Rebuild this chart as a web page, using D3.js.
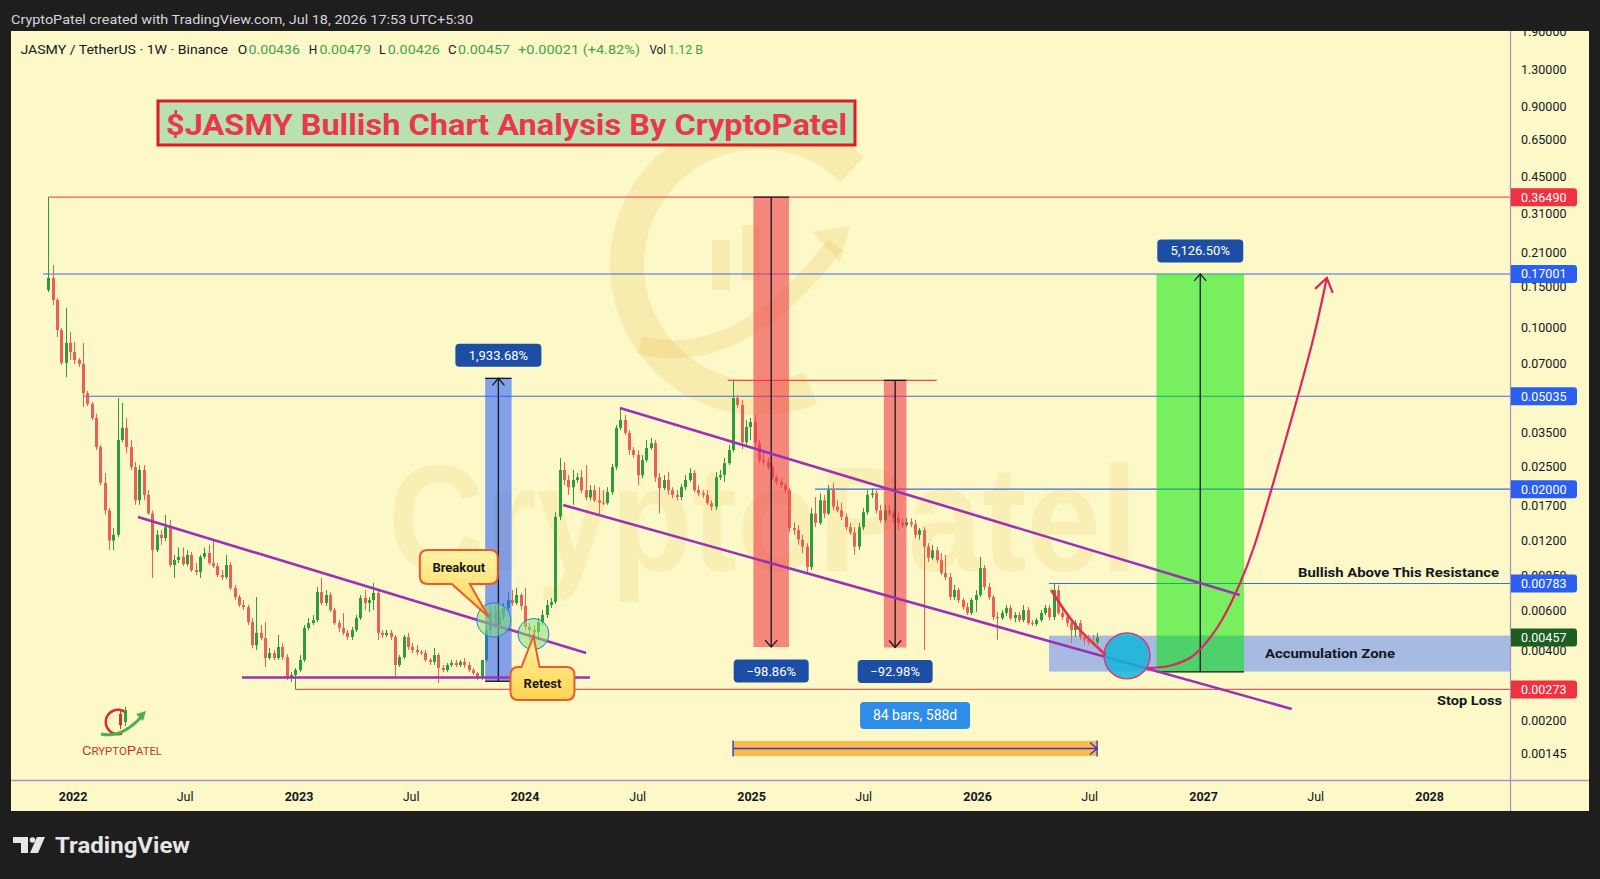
<!DOCTYPE html>
<html><head><meta charset="utf-8">
<script src="https://cdn.jsdelivr.net/npm/d3@7"></script>
<style>html,body{margin:0;padding:0;background:#1e1e1e;}svg{display:block;}</style>
</head><body>
<svg id="c" width="1600" height="879"></svg>
<script>
// ---------------- DATA ----------------
const firstBar = "2021-11-22";   // weekly bars (Mondays)
const lastBar  = "2026-07-13";
const opens = [
.1449,.1634,.1312,.0974,.0702,.0856,.0782,.0723,.0695,.0520,
.0467,.0406,.0304,.0213,.0162,.0120,.0127,.0326,.0368,.0304,
.0249,.0179,.0242,.0189,.0157,.0109,.0127,.0123,.0137,.0094,
.00988,.0102,.00949,.0104,.00895,.00877,.0102,.0106,.00959,.00931,
.00851,.00834,.0094,.00749,.00684,.00632,.00619,.00533,.00424,.00479,
.00455,.00373,.00392,.00373,.00416,.00376,.00306,.00315,.00331,.00366,
.00503,.00528,.00544,.00718,.00645,.00698,.00601,.00528,.00503,.00479,
.0046,.00493,.00555,.00678,.00645,.00664,.00712,.00479,.00469,.00479,
.0046,.00348,.00376,.0046,.00416,.00404,.00396,.00392,.00366,.00359,
.00384,.00338,.00331,.00348,.00355,.00348,.00359,.00348,.00331,.00321,
.00306,.00366,.00493,.00589,.00518,.00561,.00614,.00664,.00645,.00698,
.00626,.00508,.00493,.00483,.00533,.00572,.00632,.00651,.0152,.0242,
.0219,.0204,.0219,.0225,.0198,.0184,.0198,.0179,.0175,.0174,
.0194,.0249,.0368,.0398,.035,.0295,.0281,.023,.0267,.0301,
.0316,.0225,.0202,.0219,.0198,.0189,.0185,.0204,.0219,.0235,
.0198,.0192,.0189,.0174,.0168,.0225,.023,.0259,.0295,.0495,
.0462,.0319,.0371,.039,.0316,.0267,.0262,.0249,.0225,.0215,
.0208,.0198,.0136,.0133,.0121,.0113,.00921,.0157,.0143,.0179,
.0157,.0198,.0168,.0162,.0152,.0137,.013,.0113,.0137,.0159,
.0189,.0192,.0162,.0147,.0162,.0157,.015,.0143,.014,.0144,
.0141,.0127,.0133,.0113,.0101,.0109,.00988,.00868,.00834,.00684,
.00733,.00664,.00619,.00584,.00664,.00698,.00913,.00756,.00684,.00561,
.00555,.00584,.00614,.00555,.00572,.00544,.00601,.00528,.00523,.00544,
.00584,.00614,.00561,.00733,.00584,.00561,.00528,.00493,.00528,.0046,
.00446,.00437,.00436];
const highs = [
.365,.1859,.1339,.0993,.1213,.0955,.0864,.0737,.0856,.0531,
.0476,.0423,.031,.0235,.0166,.0136,.0495,.0472,.0406,.0326,
.0262,.0254,.0254,.0198,.0162,.0133,.0133,.0155,.0147,.0104,
.0112,.0112,.0109,.0107,.00959,.0104,.0112,.0115,.0121,.00959,
.00895,.0104,.00968,.00771,.00698,.00664,.00632,.00555,.00684,.00518,
.00533,.00412,.00404,.00469,.00433,.00388,.00324,.00338,.00384,.00518,
.00555,.00572,.00756,.00826,.00733,.00718,.00614,.00544,.00584,.00493,
.00508,.00572,.00698,.00733,.00684,.00787,.00733,.00493,.00493,.00493,
.00469,.00384,.00469,.00479,.00433,.00424,.00404,.00404,.00373,.00412,
.00392,.00348,.00355,.00366,.00366,.00366,.00373,.00359,.00338,.00324,
.00366,.00518,.00632,.00632,.00601,.00645,.00718,.00733,.00749,.00712,
.00749,.00528,.00518,.00555,.00601,.00664,.00678,.0159,.0273,.0262,
.023,.0242,.0235,.0242,.0254,.0208,.0208,.0204,.0198,.0204,
.0257,.0379,.0453,.0418,.036,.0304,.0295,.0281,.0326,.0333,
.0326,.0235,.023,.0237,.0204,.0198,.0211,.023,.0246,.0242,
.0208,.0198,.0198,.0179,.0237,.0242,.0273,.031,.059,.051,
.0486,.0398,.0406,.0418,.0326,.0289,.0273,.0254,.023,.0223,
.0213,.0202,.0144,.014,.0127,.0117,.0166,.0185,.0192,.0189,
.0208,.0213,.0179,.0175,.0157,.0143,.0137,.0143,.0166,.0198,
.0202,.0198,.0171,.0171,.0171,.0162,.0159,.015,.015,.015,
.0147,.0136,.0137,.0117,.0115,.0113,.0106,.0104,.00868,.00771,
.00749,.00678,.00645,.00678,.00733,.0102,.0094,.00787,.00698,.00589,
.00601,.00632,.00632,.00589,.00589,.00632,.00619,.00544,.00555,.00601,
.00632,.00632,.00787,.00771,.00614,.00584,.00555,.00544,.00544,.00479,
.00469,.00469,.00479];
const lows = [
.142,.1249,.0907,.0688,.061,.0723,.0695,.0674,.0453,.0457,
.0398,.0295,.0208,.0155,.0109,.0109,.0124,.0319,.0286,.0242,
.0171,.0171,.0179,.0155,.00826,.0107,.0115,.0119,.00921,.00826,
.00959,.00931,.00931,.00877,.00851,.00826,.01,.0094,.00913,.00834,
.0081,.00818,.00733,.00664,.00619,.00601,.00518,.00412,.00404,.00446,
.00341,.00366,.00366,.00366,.00366,.003,.00294,.00273,.00324,.00359,
.00493,.00518,.00533,.00632,.00626,.00589,.00518,.00483,.00469,.00446,
.00446,.00483,.00544,.00601,.00589,.00601,.00446,.00455,.0046,.00446,
.00309,.00341,.00369,.00404,.00392,.00384,.00384,.00359,.00348,.00348,
.00291,.00324,.00324,.00341,.00341,.00341,.00338,.00324,.00315,.003,
.003,.00359,.00469,.00503,.00508,.00544,.00601,.00626,.00632,.00601,
.00493,.00446,.00446,.00446,.00518,.00555,.00614,.00638,.0147,.0208,
.0189,.0171,.0213,.0192,.0179,.0179,.0176,.0155,.0171,.0171,
.0189,.0242,.036,.0343,.0281,.0273,.0208,.0223,.0262,.0295,
.0215,.0157,.0198,.0189,.0183,.0179,.0179,.0198,.0215,.0194,
.0187,.0183,.0171,.0162,.0162,.0219,.0215,.0254,.0289,.0448,
.0298,.031,.0326,.0304,.0259,.0254,.0242,.0219,.0208,.0202,
.0192,.013,.0127,.0115,.0106,.00868,.00895,.0137,.014,.015,
.0155,.0162,.0159,.0147,.0133,.0127,.0104,.0109,.0133,.0155,
.0183,.0157,.0143,.0144,.0153,.0144,.0133,.0136,.0137,.0137,
.0123,.0121,.00404,.00968,.00988,.00959,.00851,.0081,.00664,.00664,
.00645,.00601,.00572,.00572,.00589,.00684,.00733,.00664,.00544,.00446,
.00544,.00566,.00544,.00533,.00533,.00533,.00518,.00513,.00513,.00533,
.00572,.00544,.00544,.00572,.00544,.00508,.00433,.0046,.00446,.00424,
.00424,.00424,.00426];
const closes = [
.1634,.1312,.0974,.0702,.0856,.0782,.0723,.0695,.0520,.0467,
.0406,.0304,.0213,.0162,.0120,.0127,.0326,.0368,.0304,.0249,
.0179,.0242,.0189,.0157,.0109,.0127,.0123,.0137,.0094,.00988,
.0102,.00949,.0104,.00895,.00877,.0102,.0106,.00959,.00931,.00851,
.00834,.0094,.00749,.00684,.00632,.00619,.00533,.00424,.00479,.00455,
.00373,.00392,.00373,.00416,.00376,.00306,.00315,.00331,.00366,.00503,
.00528,.00544,.00718,.00645,.00698,.00601,.00528,.00503,.00479,.0046,
.00493,.00555,.00678,.00645,.00664,.00712,.00479,.00469,.00479,.0046,
.00348,.00376,.0046,.00416,.00404,.00396,.00392,.00366,.00359,.00384,
.00338,.00331,.00348,.00355,.00348,.00359,.00348,.00331,.00321,.00306,
.00366,.00493,.00589,.00518,.00561,.00614,.00664,.00645,.00698,.00626,
.00508,.00493,.00483,.00533,.00572,.00632,.00651,.0152,.0242,.0219,
.0204,.0219,.0225,.0198,.0184,.0198,.0179,.0175,.0174,.0194,
.0249,.0368,.0398,.035,.0295,.0281,.023,.0267,.0301,.0316,
.0225,.0202,.0219,.0198,.0189,.0185,.0204,.0219,.0235,.0198,
.0192,.0189,.0174,.0168,.0225,.023,.0259,.0295,.0495,.0462,
.0319,.0371,.039,.0316,.0267,.0262,.0249,.0225,.0215,.0208,
.0198,.0136,.0133,.0121,.0113,.00921,.0157,.0143,.0179,.0157,
.0198,.0168,.0162,.0152,.0137,.013,.0113,.0137,.0159,.0189,
.0192,.0162,.0147,.0162,.0157,.015,.0143,.014,.0144,.0141,
.0127,.0133,.0113,.0101,.0109,.00988,.00868,.00834,.00684,.00733,
.00664,.00619,.00584,.00664,.00698,.00913,.00756,.00684,.00561,.00555,
.00584,.00614,.00555,.00572,.00544,.00601,.00528,.00523,.00544,.00584,
.00614,.00561,.00733,.00584,.00561,.00528,.00493,.00528,.0046,.00446,
.00437,.00436,.00457];

const priceTicks = [1.9,1.3,0.9,0.65,0.45,0.31,0.21,0.15,0.1,0.07,0.035,0.025,0.017,0.012,0.0085,0.006,0.004,0.002,0.00145];
const timeTickDates  = ["2022-01-01","2022-07-01","2023-01-01","2023-07-01","2024-01-01","2024-07-01","2025-01-01","2025-07-01","2026-01-01","2026-07-01","2027-01-01","2027-07-01","2028-01-01"];
const timeTickLabels = ["2022","Jul","2023","Jul","2024","Jul","2025","Jul","2026","Jul","2027","Jul","2028"];

const tagValues = [0.3649, 0.17001, 0.05035, 0.02, 0.00783, 0.00457, 0.00273];
const tagTexts  = ["0.36490","0.17001","0.05035","0.02000","0.00783","0.00457","0.00273"];
const tagKinds  = ["red","blue","blue","blue","blue","last","red"];

// horizontal levels: price, first bar index
const blueLevels = [0.17001, 0.05035, 0.02, 0.00783];
const blueLevelStart = [-1.2, 8, 176.9, 230.9];
const redLevels = [0.3649, 0.00273];
const redLevelStart = [0, 57];
const swingHigh = 0.059, swingHighBars = [156.8, 205.0];

// trend lines [[bar, price],[bar, price]]
const trendLines = [
  [[20.7, 0.01516],[124.1, 0.003924]],
  [[44.7, 0.003073],[125.0, 0.003073]],
  [[131.9, 0.04482],[274.9, 0.006982]],
  [[118.8, 0.01708],[286.9, 0.002247]]
];

// price range measurements
const measureLabels = ["1,933.68%","\u221298.86%","\u221292.98%","5,126.50%"];
const measureFrom   = [0.00296, 0.3649, 0.059, 0.003253];
const measureTo     = [0.0602, 0.00416, 0.00414, 0.17001];
const measureBars   = [[100.8,106.9],[162.7,170.9],[192.8,198.0],[255.7,275.9]];

const zoneBars = 230.9, zoneTop = 0.00466, zoneBottom = 0.00326;
const breakoutPt = [102.8, 0.005444], retestPt = [111.95, 0.004736], targetPt = [248.9, 0.003814];
const declinePath = [[231.4,0.007335],[234.1,0.006135],[237.4,0.005077],[240.8,0.004374],[244.0,0.003845]];
const projectionPath = [[253.5,0.003377],[258.5,0.003446],[263.4,0.003731],[266.7,0.004246],[270.8,0.005444],[275.0,0.007866],[278.2,0.01128],[285.8,0.03427],[291.8,0.08813],[295.0,0.1633]];
const dateRangeBars = [158, 242], dateRangeLevel = 0.001517, dateRangeLabel = "84 bars, 588d";

// ---------------- DRAW ----------------
const FONT = "Roboto, 'Liberation Sans', Arial, sans-serif";
const UP = "#2e9b3c", DN = "#ec5f56";
const svg = d3.select("#c");
svg.append("rect").attr("width",1600).attr("height",879).attr("fill","#1e1e1e");
svg.append("rect").attr("x",11).attr("y",31).attr("width",1578).attr("height",780).attr("fill","#fdf8c8");

const defs = svg.append("defs");
defs.append("clipPath").attr("id","plotClip").append("rect").attr("x",11).attr("y",31).attr("width",1500).attr("height",750);
defs.append("clipPath").attr("id","axisClip").append("rect").attr("x",1511).attr("y",31).attr("width",78).attr("height",750);
const grad = defs.append("linearGradient").attr("id","callG").attr("x1",0).attr("y1",0).attr("x2",0).attr("y2",1);
grad.append("stop").attr("offset","0%").attr("stop-color","#fff4a8");
grad.append("stop").attr("offset","100%").attr("stop-color","#ffd451");

const dates = d3.range(closes.length).map(i => d3.utcDay.offset(new Date(firstBar+"T00:00:00Z"), 7*i));
const x = d3.scaleUtc().domain([new Date(firstBar+"T00:00:00Z"), new Date(lastBar+"T00:00:00Z")]).range([48.3, 1097.1]);
const xi = d3.scaleLinear().domain([0, closes.length-1]).range(x.range());
const y = d3.scaleLog().domain([0.001098, 1.904]).range([781, 31]);

// header
svg.append("text").attr("x",11).attr("y",24).attr("fill","#d6d6d6").attr("font-family",FONT)
  .attr("font-size",13.5).attr("textLength",462).attr("lengthAdjust","spacingAndGlyphs")
  .text("CryptoPatel created with TradingView.com, Jul 18, 2026 17:53 UTC+5:30");

const plot = svg.append("g").attr("clip-path","url(#plotClip)");

// watermark
const wm = plot.append("g").attr("opacity",1);
const wmCol = "rgba(222,170,45,0.16)";
wm.append("path").attr("transform","translate(760,265)")
  .attr("d", d3.arc()({innerRadius:116, outerRadius:150, startAngle:2.75, endAngle:7.05})).attr("fill",wmCol);
wm.append("path").attr("d","M640,345 Q740,370 835,245").attr("fill","none").attr("stroke",wmCol).attr("stroke-width",18);
wm.append("path").attr("d","M812,232 L850,226 L840,262 Z").attr("fill",wmCol);
wm.append("rect").attr("x",712).attr("y",240).attr("width",18).attr("height",50).attr("fill",wmCol);
wm.append("rect").attr("x",742).attr("y",225).attr("width",18).attr("height",55).attr("fill",wmCol);
wm.append("text").attr("x",388).attr("y",571).attr("font-family","'Liberation Sans', Arial, sans-serif")
  .attr("font-weight","bold").attr("font-size",150).attr("fill","rgba(222,180,55,0.13)")
  .attr("textLength",750).attr("lengthAdjust","spacingAndGlyphs").text("CryptoPatel");

// horizontal levels
redLevels.forEach((p,k)=>{
  plot.append("line").attr("x1",xi(redLevelStart[k])).attr("x2",1511).attr("y1",y(p)).attr("y2",y(p))
    .attr("stroke","#ee5a5a").attr("stroke-width",1.2);
});
blueLevels.forEach((p,k)=>{
  plot.append("line").attr("x1",xi(blueLevelStart[k])).attr("x2",1511).attr("y1",y(p)).attr("y2",y(p))
    .attr("stroke","#3d6be8").attr("stroke-width",1.1);
});
plot.append("line").attr("x1",xi(swingHighBars[0])).attr("x2",xi(swingHighBars[1]))
  .attr("y1",y(swingHigh)).attr("y2",y(swingHigh)).attr("stroke","#ee4a4a").attr("stroke-width",1.2);

// accumulation zone
plot.append("rect").attr("x",xi(zoneBars)).attr("y",y(zoneTop)).attr("width",1511-xi(zoneBars))
  .attr("height",y(zoneBottom)-y(zoneTop)).attr("fill","#a7bae2");

// candles
const bars = closes.map((c,i)=>({d:dates[i], o:opens[i], h:highs[i], l:lows[i], c}));
const cg = plot.append("g");
cg.selectAll("line").data(bars).join("line")
  .attr("x1",d=>Math.round(x(d.d))+0.5).attr("x2",d=>Math.round(x(d.d))+0.5)
  .attr("y1",d=>y(d.h)).attr("y2",d=>y(d.l))
  .attr("stroke",d=>d.c>=d.o?UP:DN).attr("stroke-width",1);
cg.selectAll("rect").data(bars).join("rect")
  .attr("x",d=>Math.round(x(d.d))-1).attr("width",3)
  .attr("y",d=>y(Math.max(d.o,d.c))).attr("height",d=>Math.max(1,Math.abs(y(d.o)-y(d.c))))
  .attr("fill",d=>d.c>=d.o?UP:DN);

// measurement boxes
const boxFill = ["rgba(41,98,255,0.58)","rgba(242,54,69,0.58)","rgba(242,54,69,0.58)","rgba(0,230,0,0.53)"];
const labFill = ["#1d4ea6","#1d4ea6","#1d4ea6","#1d4ea6"];
const mg = plot.append("g");
measureLabels.forEach((lab,k)=>{
  const x0 = xi(measureBars[k][0]), x1 = xi(measureBars[k][1]), cx = (x0+x1)/2;
  const yA = y(measureFrom[k]), yB = y(measureTo[k]);
  mg.append("rect").attr("x",x0).attr("y",Math.min(yA,yB)).attr("width",x1-x0).attr("height",Math.abs(yA-yB)).attr("fill",boxFill[k]);
});
measureLabels.forEach((lab,k)=>{
  const x0 = xi(measureBars[k][0]), x1 = xi(measureBars[k][1]), cx = (x0+x1)/2;
  const yA = y(measureFrom[k]), yB = y(measureTo[k]);
  const dir = yB < yA ? -1 : 1;
  mg.append("line").attr("x1",cx).attr("x2",cx).attr("y1",yA).attr("y2",yB).attr("stroke","#131722").attr("stroke-width",1.3);
  mg.append("path").attr("d",`M${cx-6},${yB-dir*7} L${cx},${yB} L${cx+6},${yB-dir*7}`).attr("fill","none").attr("stroke","#131722").attr("stroke-width",1.3);
  mg.append("line").attr("x1",x0).attr("x2",x1).attr("y1",yA).attr("y2",yA).attr("stroke","#131722").attr("stroke-width",1.3);
  if (k===0) mg.append("line").attr("x1",x0).attr("x2",x1).attr("y1",yB).attr("y2",yB).attr("stroke","#131722").attr("stroke-width",1.3);
  const ly = dir<0 ? yB-23 : yB+24;
  const w = k===1||k===2 ? 75 : 86;
  mg.append("rect").attr("x",cx-w/2).attr("y",ly-11.5).attr("width",w).attr("height",23).attr("rx",4).attr("fill",labFill[k]);
  mg.append("text").attr("x",cx).attr("y",ly+4.5).attr("text-anchor","middle").attr("fill","#fff")
    .attr("font-family",FONT).attr("font-size",13).text(lab);
});

// trend lines
trendLines.forEach(t=>{
  plot.append("line").attr("x1",xi(t[0][0])).attr("y1",y(t[0][1])).attr("x2",xi(t[1][0])).attr("y2",y(t[1][1]))
    .attr("stroke","#9b32b6").attr("stroke-width",2.6);
});

// circles
[breakoutPt, retestPt].forEach((p,k)=>{
  plot.append("circle").attr("cx",xi(p[0])).attr("cy",y(p[1])).attr("r",k===0?17:15.5)
    .attr("fill","rgba(130,230,120,0.55)").attr("stroke","#3b6fe0").attr("stroke-width",1);
});
plot.append("circle").attr("cx",xi(targetPt[0])).attr("cy",y(targetPt[1])).attr("r",23)
  .attr("fill","rgba(20,180,220,0.85)").attr("stroke","#e0306a").attr("stroke-width",1.3);

// curves
const lineGen = d3.line().x(d=>xi(d[0])).y(d=>y(d[1])).curve(d3.curveCatmullRom);
plot.append("path").attr("d",lineGen(declinePath)).attr("fill","none").attr("stroke","#e3324f").attr("stroke-width",2.6);
plot.append("path").attr("d",lineGen(projectionPath)).attr("fill","none").attr("stroke","#e0245e").attr("stroke-width",2.2);
{
  const n = projectionPath.length;
  const tx = xi(projectionPath[n-1][0]), ty = y(projectionPath[n-1][1]);
  const px = xi(projectionPath[n-2][0]), py = y(projectionPath[n-2][1]);
  const a = Math.atan2(py-ty, px-tx), L = 16, s = 0.6;
  plot.append("path").attr("d",`M${tx+L*Math.cos(a-s)},${ty+L*Math.sin(a-s)} L${tx},${ty} L${tx+L*Math.cos(a+s)},${ty+L*Math.sin(a+s)}`)
    .attr("fill","none").attr("stroke","#e0245e").attr("stroke-width",2.2);
}

// date range
{
  const x0 = xi(dateRangeBars[0]), x1 = xi(dateRangeBars[1]), yl = y(dateRangeLevel);
  plot.append("rect").attr("x",x0).attr("y",yl-7.5).attr("width",x1-x0).attr("height",15).attr("fill","#fdb84e");
  plot.append("line").attr("x1",x0).attr("x2",x1).attr("y1",yl).attr("y2",yl).attr("stroke","#3a3ab5").attr("stroke-width",1.4);
  plot.append("line").attr("x1",x0).attr("x2",x0).attr("y1",yl-8).attr("y2",yl+8).attr("stroke","#3a3ab5").attr("stroke-width",1.4);
  plot.append("line").attr("x1",x1).attr("x2",x1).attr("y1",yl-8).attr("y2",yl+8).attr("stroke","#3a3ab5").attr("stroke-width",1.4);
  plot.append("path").attr("d",`M${x1-7},${yl-6} L${x1},${yl} L${x1-7},${yl+6}`).attr("fill","none").attr("stroke","#3a3ab5").attr("stroke-width",1.4);
  const cx = (x0+x1)/2;
  plot.append("rect").attr("x",cx-55).attr("y",yl-46.5).attr("width",110).attr("height",27).attr("rx",4).attr("fill","#2e8de6");
  plot.append("text").attr("x",cx).attr("y",yl-28).attr("text-anchor","middle").attr("fill","#fff")
    .attr("font-family",FONT).attr("font-size",14).text(dateRangeLabel);
}

// callouts
function callout(x0,y0,x1,y1,r,side,xa,xb,tx,ty){
  if(side==="bottom")
    return `M${x0+r},${y0} H${x1-r} Q${x1},${y0} ${x1},${y0+r} V${y1-r} Q${x1},${y1} ${x1-r},${y1} H${xb} L${tx},${ty} L${xa},${y1} H${x0+r} Q${x0},${y1} ${x0},${y1-r} V${y0+r} Q${x0},${y0} ${x0+r},${y0} Z`;
  return `M${x0+r},${y0} H${xa} L${tx},${ty} L${xb},${y0} H${x1-r} Q${x1},${y0} ${x1},${y0+r} V${y1-r} Q${x1},${y1} ${x1-r},${y1} H${x0+r} Q${x0},${y1} ${x0},${y1-r} V${y0+r} Q${x0},${y0} ${x0+r},${y0} Z`;
}
{
  const cx = xi(breakoutPt[0]), cy = y(breakoutPt[1]);
  plot.append("path").attr("d",callout(cx-74,cy-70,cx+4,cy-36,8,"bottom",cx-42,cx-24,cx-5,cy-3))
    .attr("fill","url(#callG)").attr("stroke","#ec5b2a").attr("stroke-width",2);
  plot.append("text").attr("x",cx-35).attr("y",cy-48.5).attr("text-anchor","middle").attr("font-family",FONT)
    .attr("font-weight","bold").attr("font-size",13).attr("fill","#1a1a1a").text("Breakout");
  const rx = xi(retestPt[0]), ry = y(retestPt[1]);
  plot.append("path").attr("d",callout(rx-23,ry+33,rx+41,ry+66,8,"top",rx-12,rx+6,rx,ry+2))
    .attr("fill","url(#callG)").attr("stroke","#ec5b2a").attr("stroke-width",2);
  plot.append("text").attr("x",rx+9).attr("y",ry+54).attr("text-anchor","middle").attr("font-family",FONT)
    .attr("font-weight","bold").attr("font-size",13).attr("fill","#1a1a1a").text("Retest");
}

// annotation texts
plot.append("text").attr("x",1499).attr("y",y(0.00783)-6).attr("text-anchor","end").attr("font-family",FONT)
  .attr("font-weight","bold").attr("font-size",13).attr("fill","#131722").attr("textLength",201).attr("lengthAdjust","spacingAndGlyphs").text("Bullish Above This Resistance");
plot.append("text").attr("x",1265).attr("y",(y(zoneTop)+y(zoneBottom))/2+4.5).attr("font-family",FONT)
  .attr("font-weight","bold").attr("font-size",13).attr("fill","#131722").attr("textLength",130).attr("lengthAdjust","spacingAndGlyphs").text("Accumulation Zone");
plot.append("text").attr("x",1437).attr("y",y(0.00273)+15.5).attr("font-family",FONT)
  .attr("font-weight","bold").attr("font-size",13).attr("fill","#131722").attr("textLength",65).attr("lengthAdjust","spacingAndGlyphs").text("Stop Loss");

// small logo
{
  const lg = svg.append("g");
  lg.append("path").attr("transform","translate(118,722)").attr("d",d3.arc()({innerRadius:11,outerRadius:13.5,startAngle:2.8,endAngle:6.9})).attr("fill","#d3302f");
  lg.append("line").attr("x1",120.5).attr("x2",120.5).attr("y1",710).attr("y2",729).attr("stroke","#d3302f");
  lg.append("rect").attr("x",119).attr("y",714).attr("width",3).attr("height",11).attr("fill","#d3302f");
  lg.append("line").attr("x1",125.5).attr("x2",125.5).attr("y1",707).attr("y2",726).attr("stroke","#3a9d3a");
  lg.append("rect").attr("x",124).attr("y",710).attr("width",3).attr("height",12).attr("fill","#3a9d3a");
  lg.append("path").attr("d","M101,734 Q122,739 143,715").attr("fill","none").attr("stroke","#4caf50").attr("stroke-width",3);
  lg.append("path").attr("d","M136,714 L146,711 L143,721 Z").attr("fill","#4caf50");
  const t = lg.append("text").attr("x",82).attr("y",755).attr("font-family",FONT).attr("fill","#c0392b")
    .attr("textLength",80).attr("lengthAdjust","spacingAndGlyphs");
  t.append("tspan").attr("font-size",13).text("C");
  t.append("tspan").attr("font-size",10).text("RYPTO");
  t.append("tspan").attr("font-size",13).text("P");
  t.append("tspan").attr("font-size",10).text("ATEL");
}

// title
svg.append("rect").attr("x",158).attr("y",101).attr("width",697).attr("height",44).attr("fill","#b8e0b0").attr("stroke","#e01b22").attr("stroke-width",3);
svg.append("text").attr("x",166).attr("y",134.5).attr("font-family",FONT).attr("font-weight","bold").attr("font-size",30)
  .attr("fill","#e8384a").attr("textLength",681).attr("lengthAdjust","spacingAndGlyphs").text("$JASMY Bullish Chart Analysis By CryptoPatel");

// legend
{
  const lgd = svg.append("text").attr("y",53.5).attr("font-family",FONT).attr("font-size",13);
  const GREEN = "#3fa34d", INK = "#131722";
  const parts = [
    [20.4,207.6,INK,"JASMY / TetherUS \u00b7 1W \u00b7 Binance"],
    [237.8,9.5,INK,"O"],[248.5,51.5,GREEN,"0.00436"],
    [308.7,8.5,INK,"H"],[319.4,51.5,GREEN,"0.00479"],
    [379,6.7,INK,"L"],[387.8,52,GREEN,"0.00426"],
    [448,8.6,INK,"C"],[458,52,GREEN,"0.00457"],
    [518,122,GREEN,"+0.00021 (+4.82%)"],
    [649.5,16.5,INK,"Vol"],[668,35,GREEN,"1.12 B"]
  ];
  parts.forEach(p=>{
    svg.append("text").attr("x",p[0]).attr("y",53.5).attr("font-family",FONT).attr("font-size",13)
      .attr("fill",p[2]).attr("textLength",p[1]).attr("lengthAdjust","spacingAndGlyphs").text(p[3]);
  });
  lgd.remove();
}

// axes separators
svg.append("line").attr("x1",1510.5).attr("x2",1510.5).attr("y1",31).attr("y2",811).attr("stroke","#b089c0").attr("stroke-width",1.2);
svg.append("line").attr("x1",11).attr("x2",1589).attr("y1",780.5).attr("y2",780.5).attr("stroke","#b98bbf").attr("stroke-width",1.6);

// price axis
const ax = svg.append("g").attr("clip-path","url(#axisClip)");
ax.selectAll("text.t").data(priceTicks).join("text").attr("class","t")
  .attr("x",1521).attr("y",d=>y(d)+4.5).attr("font-family",FONT).attr("font-size",12.5).attr("fill","#131722")
  .text(d=>d3.format(".5f")(d));
const tagCol = {red:"#ef3140", blue:"#2a5ff0", last:"#1b5e20"};
tagValues.forEach((v,k)=>{
  const yy = y(v);
  ax.append("path").attr("d",`M1511,${yy-9} H1574 Q1577,${yy-9} 1577,${yy-6} V${yy+6} Q1577,${yy+9} 1574,${yy+9} H1511 Z`).attr("fill",tagCol[tagKinds[k]]);
  ax.append("text").attr("x",1521).attr("y",yy+4.5).attr("font-family",FONT).attr("font-size",12.5).attr("fill","#fff").text(tagTexts[k]);
});

// time axis
svg.append("g").selectAll("text").data(timeTickDates).join("text")
  .attr("x",d=>x(new Date(d+"T00:00:00Z"))).attr("y",801).attr("text-anchor","middle")
  .attr("font-family",FONT).attr("font-size",12.5).attr("fill","#131722")
  .attr("font-weight",(d,i)=>timeTickLabels[i]==="Jul"?"normal":"bold")
  .text((d,i)=>timeTickLabels[i]);

// TradingView footer logo
{
  const f = svg.append("g").attr("fill","#e6e6e6");
  f.append("path").attr("d","M13,837 H28 V853 H21 V843 H13 Z");
  f.append("circle").attr("cx",32.5).attr("cy",840).attr("r",2.8);
  f.append("path").attr("d","M37,837 H45 L38,853 H30 Z");
  f.append("text").attr("x",55).attr("y",853).attr("font-family",FONT).attr("font-weight","bold").attr("font-size",22)
    .attr("textLength",135).attr("lengthAdjust","spacingAndGlyphs").text("TradingView");
}
</script>
</body></html>
